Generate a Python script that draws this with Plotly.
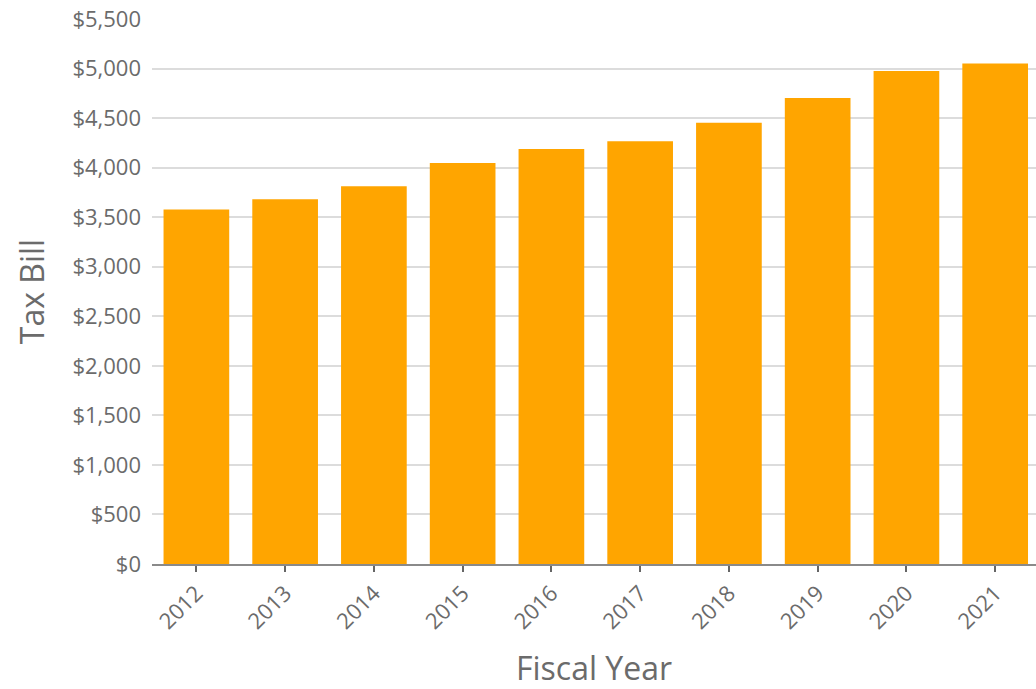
import plotly.graph_objects as go

# Annual property tax bill by fiscal year
years = ["2012", "2013", "2014", "2015", "2016", "2017", "2018", "2019", "2020", "2021"]
tax_bill = [3578, 3682, 3813, 4048, 4189, 4267, 4452, 4704, 4976, 5050]

y_ticks = list(range(0, 5501, 500))
y_tick_text = [f"${v:,}" for v in y_ticks]

text_color = "#6b6b6b"
font_family = "Open Sans, Noto Sans, sans-serif"

fig = go.Figure(
    go.Bar(
        x=years,
        y=tax_bill,
        marker=dict(color="#FFA500", line=dict(width=0)),
        hoverinfo="x+y",
    )
)

fig.update_layout(
    width=1036,
    height=689,
    margin=dict(l=152, r=0, t=19, b=125),
    paper_bgcolor="white",
    plot_bgcolor="white",
    bargap=0.26,
    showlegend=False,
    font=dict(family=font_family, color=text_color),
)

fig.update_xaxes(
    type="category",
    range=[-0.5, 9.46],
    tickangle=-45,
    tickfont=dict(size=22, color=text_color),
    ticks="outside",
    ticklen=6,
    tickwidth=1.5,
    tickcolor="#666666",
    showline=True,
    linecolor="#8a8a8a",
    linewidth=1.5,
    showgrid=False,
    title=dict(text="Fiscal Year", font=dict(size=32, color=text_color), standoff=24),
)

fig.update_yaxes(
    range=[0, 5500],
    tickvals=y_ticks,
    ticktext=y_tick_text,
    tickfont=dict(size=22, color=text_color),
    ticklabelstandoff=10,
    showgrid=True,
    gridcolor="#dcdcdc",
    gridwidth=1.5,
    zeroline=False,
    showline=False,
    title=dict(text="Tax Bill", font=dict(size=32, color=text_color), standoff=18),
)

fig.write_html("out.html")
